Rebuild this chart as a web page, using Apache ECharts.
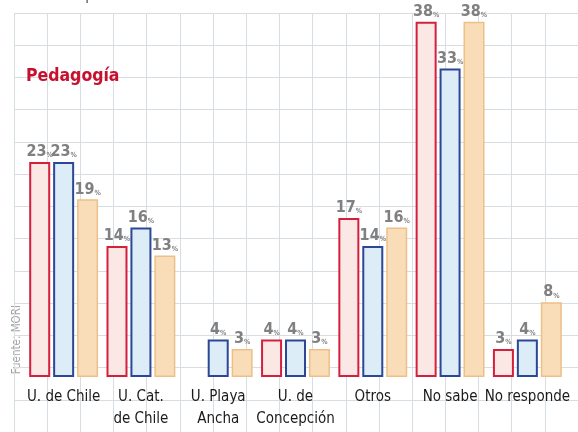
<!DOCTYPE html>
<html>
<head>
<meta charset="utf-8">
<script src="https://cdn.jsdelivr.net/npm/echarts@6/dist/echarts.min.js"></script>
<style>
html,body{margin:0;padding:0;background:#fff;}
#c{width:578px;height:432px;}
</style>
</head>
<body>
<div id="c"></div>
<script>
const categories = ['U. de Chile', 'U. Cat.\nde Chile', 'U. Playa\nAncha', 'U. de\nConcepción', 'Otros', 'No sabe', 'No responde'];
const serieRed = [23, 14, null, 4, 17, 38, 3];
const serieBlue = [23, 16, 4, 4, 14, 33, 4];
const serieOrange = [19, 13, 3, 3, 16, 38, 8];
const titleText = 'Pedagogía';
const sourceText = 'Fuente: MORI';

const NARROW = "'DejaVu Sans Condensed','Liberation Sans Narrow',sans-serif";

const chart = echarts.init(document.getElementById('c'), null, {renderer: 'canvas'});

function mkLabel() {
  return {
    show: true,
    position: 'top',
    distance: 2,
    formatter: p => (p.value == null ? '' : '{n|' + p.value + '}{p|%}'),
    rich: {
      n: {fontFamily: NARROW, fontWeight: 'bold', fontSize: 16, color: '#808080'},
      p: {fontFamily: NARROW, fontWeight: 'bold', fontSize: 7, color: '#808080', verticalAlign: 'bottom', padding: [0,0,1,0]}
    }
  };
}

function mkSeries(data, fill, border, bw) {
  return {
    type: 'bar',
    xAxisIndex: 0, yAxisIndex: 0,
    data: data,
    barWidth: 21,
    barGap: '14%',
    itemStyle: {color: fill, borderColor: border, borderWidth: bw},
    label: mkLabel(),
    animation: false
  };
}

const option = {
  backgroundColor: '#ffffff',
  animation: false,
  title: {
    text: titleText,
    left: 21, top: 62,
    textStyle: {fontFamily: NARROW, fontWeight: 'bold', fontSize: 17.5, color: '#c8102e'}
  },
  grid: [
    {left: 25, right: 12, top: 3, bottom: 55},
    {left: 14, top: 13, width: 33.4 * 17, height: 33.2 * 13}
  ],
  xAxis: [
    {
      type: 'category', gridIndex: 0, data: categories,
      axisLine: {show: false}, axisTick: {show: false},
      axisLabel: {margin: 9, fontFamily: NARROW, fontSize: 15, color: '#1a1a1a', lineHeight: 22, interval: 0}
    },
    {
      type: 'value', gridIndex: 1, min: 0, max: 17, interval: 1,
      axisLine: {show: false}, axisTick: {show: false}, axisLabel: {show: false},
      splitLine: {show: true, lineStyle: {color: '#d6dde3', width: 1}}
    }
  ],
  yAxis: [
    {
      type: 'value', gridIndex: 0, min: 0, max: 40,
      axisLine: {show: false}, axisTick: {show: false}, axisLabel: {show: false},
      splitLine: {show: false}
    },
    {
      type: 'value', gridIndex: 1, min: 0, max: 13, interval: 1, inverse: true,
      axisLine: {show: false}, axisTick: {show: false}, axisLabel: {show: false},
      splitLine: {show: true, lineStyle: {color: '#d6dde3', width: 1}}
    }
  ],
  series: [
    mkSeries(serieRed, '#fbe8e5', '#d5203d', 2),
    mkSeries(serieBlue, '#dcedf8', '#2c4795', 2),
    mkSeries(serieOrange, '#f8ddb8', '#ecc088', 1.5)
  ],
  graphic: [
    {
      type: 'text', left: 11, top: 305, rotation: Math.PI / 2,
      style: {text: sourceText, fontFamily: NARROW, fontSize: 11.5, fill: '#a3a3a3'}
    },
    {
      type: 'text', left: -8, top: -10,
      style: {text: 'sabe', fontFamily: NARROW, fontSize: 13, fill: '#333'}
    },
    {
      type: 'text', left: 48, top: -10,
      style: {text: 'No responde', fontFamily: NARROW, fontSize: 13, fill: '#333'}
    }
  ]
};
chart.setOption(option);
</script>
</body>
</html>
